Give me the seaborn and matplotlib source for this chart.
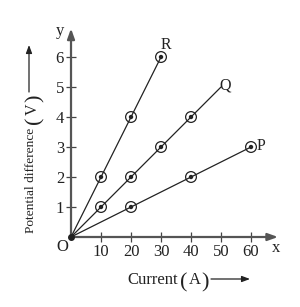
import pandas as pd
import seaborn as sns
import matplotlib.pyplot as plt

# Data (current in A, potential difference in V)
current_R = [10, 20, 30]
voltage_R = [2, 4, 6]
current_Q = [10, 20, 30, 40]
voltage_Q = [1, 2, 3, 4]
current_P = [20, 40, 60]
voltage_P = [1, 2, 3]

# where each straight line stops (all start at the origin)
line_end_R = (30, 6)
line_end_Q = (50, 5)
line_end_P = (60, 3)

x_ticks = [10, 20, 30, 40, 50, 60]
y_ticks = [1, 2, 3, 4, 5, 6]

sns.set_theme(style="white")
plt.rcParams["font.family"] = ["Liberation Serif", "DejaVu Sans"]

# Build tables for seaborn
points = pd.concat([
    pd.DataFrame({"I": current_R, "V": voltage_R, "wire": "R"}),
    pd.DataFrame({"I": current_Q, "V": voltage_Q, "wire": "Q"}),
    pd.DataFrame({"I": current_P, "V": voltage_P, "wire": "P"}),
])
lines = pd.DataFrame({
    "I": [0, line_end_R[0], 0, line_end_Q[0], 0, line_end_P[0]],
    "V": [0, line_end_R[1], 0, line_end_Q[1], 0, line_end_P[1]],
    "wire": ["R", "R", "Q", "Q", "P", "P"],
})

fig = plt.figure(figsize=(3.0, 3.07), dpi=100)
ax = fig.add_axes([0.2367, 0.228, 0.7, 0.684])

ink = "#222222"
sns.lineplot(data=lines, x="I", y="V", units="wire", estimator=None,
             color=ink, linewidth=0.9, ax=ax, legend=False)
sns.scatterplot(data=points, x="I", y="V", s=60, facecolor="none",
                edgecolor=ink, linewidth=0.9, ax=ax, legend=False, zorder=3)
sns.scatterplot(data=points, x="I", y="V", s=10, color=ink,
                edgecolor="none", ax=ax, legend=False, zorder=4)

ax.set_xlim(0, 70)
ax.set_ylim(0, 7)
for s in ax.spines.values():
    s.set_visible(False)

# axes drawn as arrows
arrow = dict(arrowstyle="-|>,head_length=0.5,head_width=0.18", color="#555555", lw=1.6,
             shrinkA=0, shrinkB=0)
ax.annotate("", xy=(69, 0), xytext=(0, 0), arrowprops=arrow, annotation_clip=False)
ax.annotate("", xy=(0, 6.95), xytext=(0, 0), arrowprops=arrow, annotation_clip=False)
ax.plot([0], [0], "o", color=ink, markersize=4, clip_on=False, zorder=5)

ax.set_xticks(x_ticks)
ax.set_yticks(y_ticks)
ax.tick_params(direction="inout", length=7, width=0.9, color="#444444",
               labelsize=12, pad=1.5, bottom=True, left=True, labelcolor=ink)
ax.set_xlabel("")
ax.set_ylabel("")

ax.text(-3.7, 6.87, "y", fontsize=12, ha="center", va="center", color=ink)
ax.text(68.3, -0.37, "x", fontsize=12, ha="center", va="center", color=ink)
ax.text(-2.8, -0.32, "O", fontsize=12, ha="center", va="center", color=ink)
ax.text(31.5, 6.4, "R", fontsize=11.5, ha="center", va="center", color=ink)
ax.text(51.5, 5.05, "Q", fontsize=11.5, ha="center", va="center", color=ink)
ax.text(63.3, 3.05, "P", fontsize=11.5, ha="center", va="center", color=ink)

# axis titles, built from pieces (large brackets and long arrows)
px = "figure pixels"
long_arrow = dict(arrowstyle="-|>,head_length=0.4,head_width=0.15", color=ink, lw=0.9,
                  shrinkA=0, shrinkB=0)

ax.annotate("Potential difference", xy=(31, 74), xycoords=px, rotation=90,
            fontsize=9.6, ha="center", va="bottom", color=ink)
ax.annotate("(", xy=(35, 187), xycoords=px, rotation=90, fontsize=16,
            ha="center", va="center", color=ink)
ax.annotate("V", xy=(33, 198), xycoords=px, rotation=90, fontsize=11.5,
            ha="center", va="center", color=ink)
ax.annotate(")", xy=(35, 209), xycoords=px, rotation=90, fontsize=16,
            ha="center", va="center", color=ink)
ax.annotate("", xy=(29, 262), xytext=(29, 215), xycoords=px, textcoords=px,
            arrowprops=long_arrow)

ax.annotate("Current", xy=(127, 23), xycoords=px, fontsize=12,
            ha="left", va="baseline", color=ink)
ax.annotate("(", xy=(184, 24), xycoords=px, fontsize=16,
            ha="center", va="center", color=ink)
ax.annotate("A", xy=(195, 23), xycoords=px, fontsize=12,
            ha="center", va="baseline", color=ink)
ax.annotate(")", xy=(205, 24), xycoords=px, fontsize=16,
            ha="center", va="center", color=ink)
ax.annotate("", xy=(250, 28), xytext=(211, 28), xycoords=px, textcoords=px,
            arrowprops=long_arrow)

fig.savefig("out.png", dpi=100)
